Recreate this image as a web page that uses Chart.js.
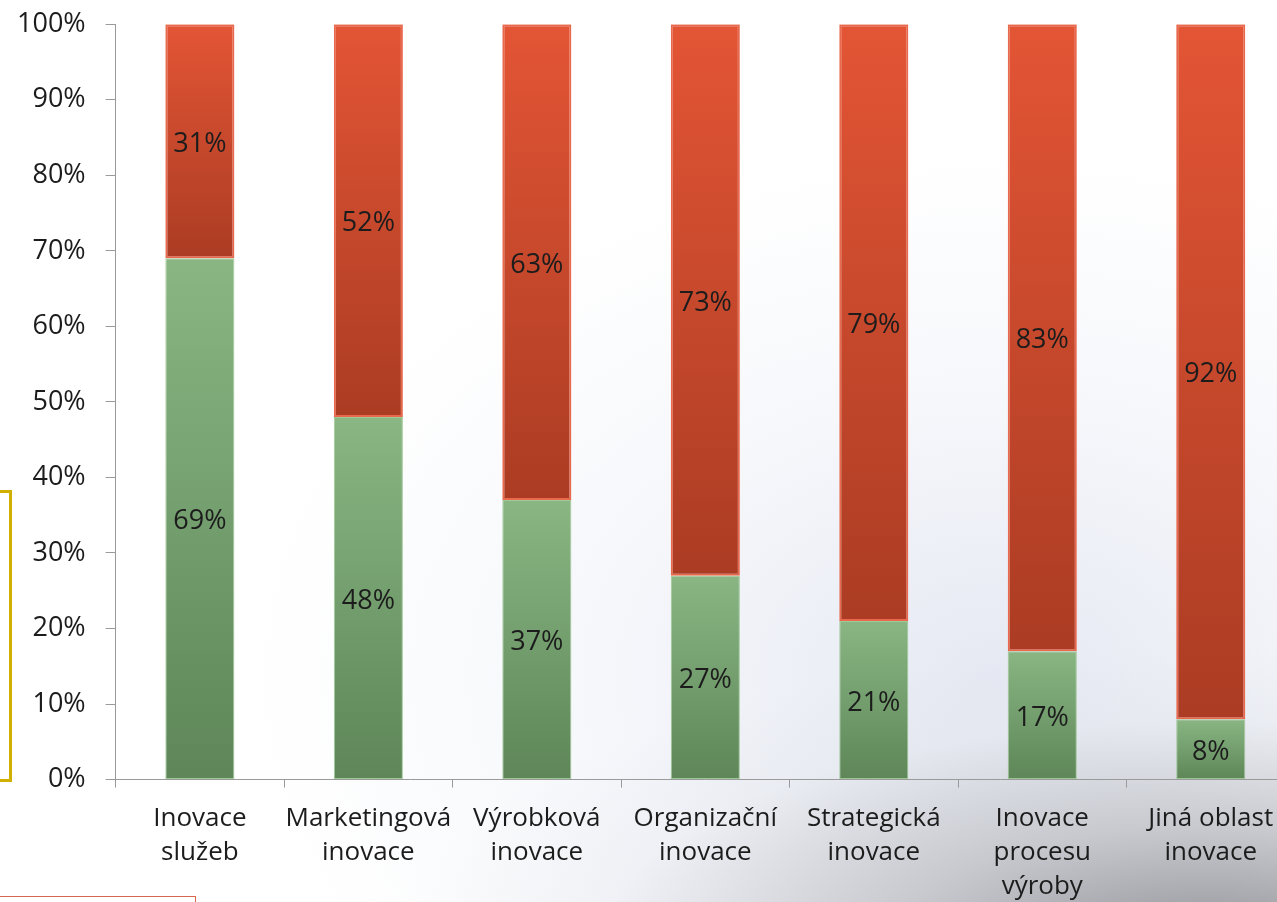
<!DOCTYPE html>
<html><head><meta charset="utf-8">
<script src="https://cdn.jsdelivr.net/npm/chart.js@4.4.0/dist/chart.umd.min.js"></script>
<style>
html,body{margin:0;padding:0;width:1277px;height:902px;overflow:hidden;background:#fff}
#bg{position:absolute;left:0;top:0;width:1277px;height:902px;
background:
radial-gradient(ellipse 820px 300px at 95% 105%, rgba(120,120,125,0.8) 0%, rgba(165,167,172,0.55) 40%, rgba(215,218,226,0.25) 75%, rgba(255,255,255,0) 100%),
radial-gradient(ellipse 750px 520px at 78% 75%, rgba(212,218,234,0.6) 0%, rgba(230,234,244,0.35) 55%, rgba(255,255,255,0) 100%),
#fff;}
#wrap{position:absolute;left:-15px;top:-12px;width:1315px;height:960px}
#bracket{position:absolute;left:-10px;top:490px;width:22px;height:292px;border:3px solid #d2b000;box-sizing:border-box}
#box{position:absolute;left:-5px;top:896px;width:201px;height:30px;border:1.5px solid #d8664c;box-sizing:border-box}
</style></head><body>
<div id="bg"></div>
<div id="wrap"><canvas id="c" width="1315" height="960"></canvas></div>
<div id="bracket"></div><div id="box"></div>
<script>
const categories = [
  ["Inovace","služeb"],
  ["Marketingová","inovace"],
  ["Výrobková","inovace"],
  ["Organizační","inovace"],
  ["Strategická","inovace"],
  ["Inovace","procesu","výroby"],
  ["Jiná oblast","inovace"]
];
const greenValues = [69, 48, 37, 27, 21, 17, 8];
const redValues   = [31, 52, 63, 73, 79, 83, 92];
const yTicks = [0,10,20,30,40,50,60,70,80,90,100];

const FONT = "'Open Sans', 'Noto Sans', sans-serif";

function segGradient(ctx, top, bottom) {
  const chart = ctx.chart;
  if (!chart.chartArea || ctx.type !== 'data') return top;
  const y = chart.scales.y;
  const i = ctx.dataIndex;
  let start = 0;
  for (let d = 0; d < ctx.datasetIndex; d++) start += chart.data.datasets[d].data[i];
  const end = start + chart.data.datasets[ctx.datasetIndex].data[i];
  const g = chart.ctx.createLinearGradient(0, y.getPixelForValue(end), 0, y.getPixelForValue(start));
  g.addColorStop(0, top);
  g.addColorStop(1, bottom);
  return g;
}

const labelPlugin = {
  id: 'segLabels',
  afterDatasetsDraw(chart) {
    const c = chart.ctx;
    c.save();
    c.font = "27px " + FONT;
    c.fillStyle = '#1c1c1c';
    c.textAlign = 'center';
    c.textBaseline = 'middle';
    chart.data.datasets.forEach((ds, di) => {
      const meta = chart.getDatasetMeta(di);
      meta.data.forEach((el, i) => {
        const cy = (el.y + el.base) / 2 + 3;
        c.fillText(ds.data[i] + '%', el.x, cy);
      });
    });
    c.restore();
  }
};

new Chart(document.getElementById('c'), {
  type: 'bar',
  data: {
    labels: categories,
    datasets: [
      {
        label: 'Ano',
        data: greenValues,
        backgroundColor: (ctx) => segGradient(ctx, '#89b683', '#5e8658'),
        borderColor: 'rgba(150,195,140,0.9)',
        borderWidth: 1,
        borderSkipped: false,
        categoryPercentage: 1,
        barPercentage: 0.41
      },
      {
        label: 'Ne',
        data: redValues,
        backgroundColor: (ctx) => segGradient(ctx, '#e35535', '#ab3c23'),
        borderColor: '#e8694d',
        borderWidth: 2,
        borderSkipped: false,
        categoryPercentage: 1,
        barPercentage: 0.41
      }
    ]
  },
  options: {
    responsive: false,
    animation: false,
    devicePixelRatio: 1,
    layout: { padding: { left: 12, top: 6, right: 5, bottom: 31 } },
    plugins: { legend: { display: false }, tooltip: { enabled: false } },
    scales: {
      x: {
        stacked: true,
        grid: { offset: true, drawOnChartArea: false, drawTicks: true, tickLength: 8, color: '#9a9a9a' },
        border: { display: true, color: '#9a9a9a', width: 1 },
        ticks: { color: '#1c1c1c', font: { family: FONT, size: 26, lineHeight: 1.3 }, padding: 14, maxRotation: 0, autoSkip: false }
      },
      y: {
        stacked: true,
        min: 0, max: 100,
        afterBuildTicks(axis) { axis.ticks = yTicks.map(v => ({ value: v })); },
        grid: { drawOnChartArea: false, drawTicks: true, tickLength: 10, color: '#9a9a9a' },
        border: { display: true, color: '#9a9a9a', width: 1 },
        ticks: { color: '#1c1c1c', font: { family: FONT, size: 27 }, padding: 20, callback: v => v + '%' }
      }
    }
  },
  plugins: [labelPlugin]
});
</script>
</body></html>
